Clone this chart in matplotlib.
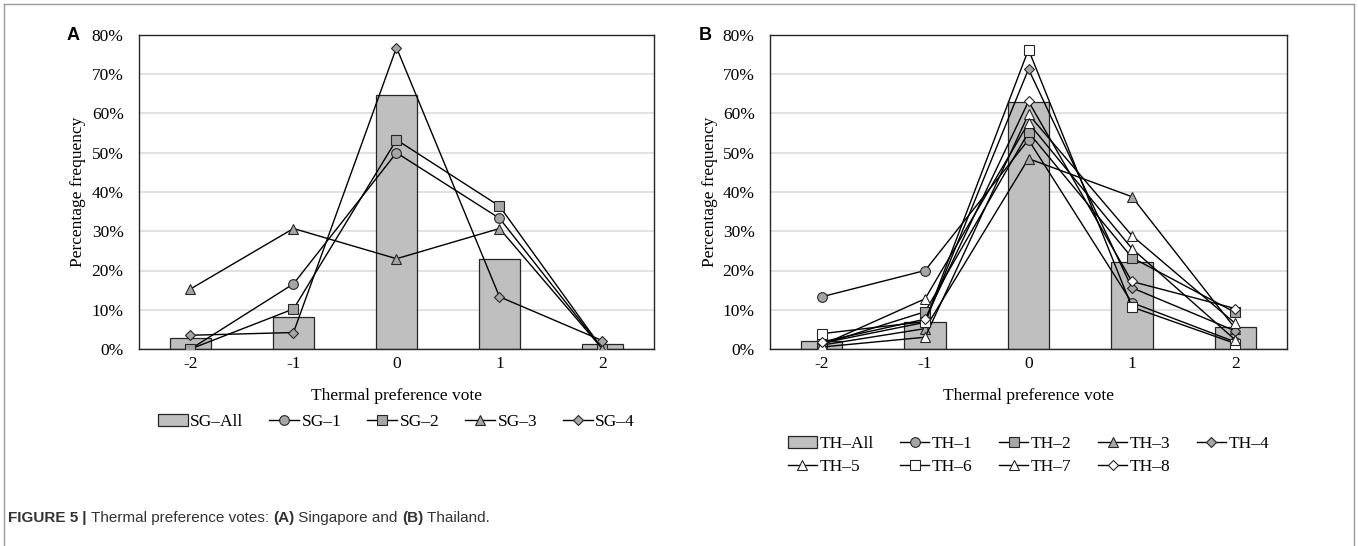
import matplotlib
matplotlib.use("Agg")
import matplotlib.pyplot as plt
from matplotlib.patches import Patch
from matplotlib.lines import Line2D

# ---------------- data ----------------
votes = [-2, -1, 0, 1, 2]
tick_labels = ["-2", "-1", "0", "1", "2"]
yticks = [0, 10, 20, 30, 40, 50, 60, 70, 80]

sg_all = [2.8, 8.2, 64.8, 23.0, 1.2]
sg_1 = [0.0, 16.6, 50.0, 33.3, 0.0]
sg_2 = [0.0, 10.2, 53.3, 36.4, 0.0]
sg_3 = [15.3, 30.7, 23.0, 30.7, 0.0]
sg_4 = [3.5, 4.2, 76.8, 13.3, 2.1]

th_all = [2.1, 7.0, 63.0, 22.2, 5.6]
th_1 = [13.3, 20.0, 53.3, 11.8, 1.8]
th_2 = [1.2, 9.5, 55.2, 23.3, 9.3]
th_3 = [1.0, 5.2, 48.5, 38.8, 5.2]
th_4 = [1.5, 6.8, 71.3, 15.6, 4.6]
th_5 = [0.5, 3.0, 59.8, 28.9, 6.5]
th_6 = [3.9, 7.0, 76.3, 10.7, 1.4]
th_7 = [1.0, 12.8, 57.6, 25.6, 2.3]
th_8 = [1.8, 7.6, 63.1, 17.2, 10.3]

sg_names = ["SG\u20131", "SG\u20132", "SG\u20133", "SG\u20134"]
th_names = ["TH\u20131", "TH\u20132", "TH\u20133", "TH\u20134",
            "TH\u20135", "TH\u20136", "TH\u20137", "TH\u20138"]

GRAY = "#A6A6A6"
WHITE = "#FFFFFF"
BAR = "#BFBFBF"
EDGE = "#262626"
SERIF = ["Liberation Serif", "DejaVu Serif"]
SANS = ["Liberation Sans", "DejaVu Sans"]
FS = 12.5

sg_series = [(sg_1, "o", GRAY), (sg_2, "s", GRAY), (sg_3, "^", GRAY), (sg_4, "D", GRAY)]
th_series = [(th_1, "o", GRAY), (th_2, "s", GRAY), (th_3, "^", GRAY), (th_4, "D", GRAY),
             (th_5, "^", WHITE), (th_6, "s", WHITE), (th_7, "^", WHITE), (th_8, "D", WHITE)]

W, H = 1358, 546
fig = plt.figure(figsize=(W / 100, H / 100), dpi=100)

MS = {"o": 7.0, "s": 6.5, "^": 7.0, "D": 5.5}

def px_rect(l, r, t, b):
    return [l / W, 1 - b / H, (r - l) / W, (b - t) / H]

def panel(l, r, t, b, bars, series, names, allname, letter, ylab_x, letter_x,
          xlab_y, leg_y, order):
    ax = fig.add_axes(px_rect(l, r, t, b))
    ax.set_axisbelow(True)
    ax.yaxis.grid(True, color="#D9D9D9", lw=1.1)
    ax.bar(votes, bars, width=0.4, color=BAR, edgecolor=EDGE, lw=0.9, zorder=2)
    handles = [Patch(facecolor=BAR, edgecolor=EDGE, lw=0.9)]
    for vals, m, fc in series:
        ax.plot(votes, vals, color="black", lw=1.0, marker=m, ms=MS[m],
                mfc=fc, mec=EDGE, mew=0.8, zorder=3)
        handles.append(Line2D([], [], color="black", lw=1.0, marker=m, ms=MS[m],
                              mfc=fc, mec=EDGE, mew=0.8))
    labels = [allname] + names
    ax.set_xlim(-2.5, 2.5)
    ax.set_ylim(0, 80)
    ax.set_xticks(votes)
    ax.set_xticklabels(tick_labels)
    ax.set_yticks(yticks)
    ax.set_yticklabels([f"{v}%" for v in yticks])
    ax.tick_params(axis="y", length=0, labelsize=FS, pad=11)
    ax.tick_params(axis="x", length=0, labelsize=FS, pad=5)
    for lab in ax.get_xticklabels() + ax.get_yticklabels():
        lab.set_family(SERIF)
    for s in ax.spines.values():
        s.set_color(EDGE)
        s.set_lw(1.0)
    # axis titles
    fig.text((l + r) / 2 / W, 1 - xlab_y / H, "Thermal preference vote",
             ha="center", va="center", family=SERIF, fontsize=FS)
    fig.text(ylab_x / W, 1 - (t + b) / 2 / H, "Percentage frequency", rotation=90,
             ha="center", va="center", family=SERIF, fontsize=FS)
    fig.text(letter_x / W, 1 - t / H, letter, family=SANS, weight="bold",
             fontsize=13, ha="center", va="center")
    hs = [handles[i] for i in order]
    ls = [labels[i] for i in order]
    fig.legend(hs, ls, loc="upper center", bbox_to_anchor=((l + r) / 2 / W, 1 - leg_y / H),
               ncol=5, frameon=False, prop={"family": SERIF, "size": FS},
               handlelength=1.7, handletextpad=0.15, columnspacing=1.5,
               labelspacing=0.4, borderaxespad=0, borderpad=0)
    return ax

# Panel A
panel(139, 654, 35, 349, sg_all, sg_series, sg_names, "SG\u2013All", "A",
      78, 73, 396, 414, [0, 1, 2, 3, 4])

# Panel B
panel(770, 1287, 35, 349, th_all, th_series, th_names, "TH\u2013All", "B",
      710, 705, 396, 436, [0, 5, 1, 6, 2, 7, 3, 8, 4])

# Outer frame (no bottom edge)
fc = "#9A9A9A"
fig.add_artist(Line2D([4 / W, 4 / W], [0, 1 - 4 / H], color=fc, lw=1.0))
fig.add_artist(Line2D([4 / W, 1 - 4 / W], [1 - 4 / H, 1 - 4 / H], color=fc, lw=1.0))
fig.add_artist(Line2D([1 - 4 / W, 1 - 4 / W], [0, 1 - 4 / H], color=fc, lw=1.0))

# Caption with mixed weights
renderer = fig.canvas.get_renderer()
parts = [("FIGURE 5", "bold"), (" | ", "bold"), ("Thermal preference votes: ", "normal"),
         ("(A)", "bold"), (" Singapore and ", "normal"), ("(B)", "bold"), (" Thailand.", "normal")]
x = 8
for txt, wt in parts:
    t = fig.text(x / W, 1 - 518 / H, txt, family=SANS, weight=wt, fontsize=11,
                 color="#333333", ha="left", va="center")
    bb = t.get_window_extent(renderer=renderer)
    x += bb.width

fig.savefig("out.png", dpi=100)
